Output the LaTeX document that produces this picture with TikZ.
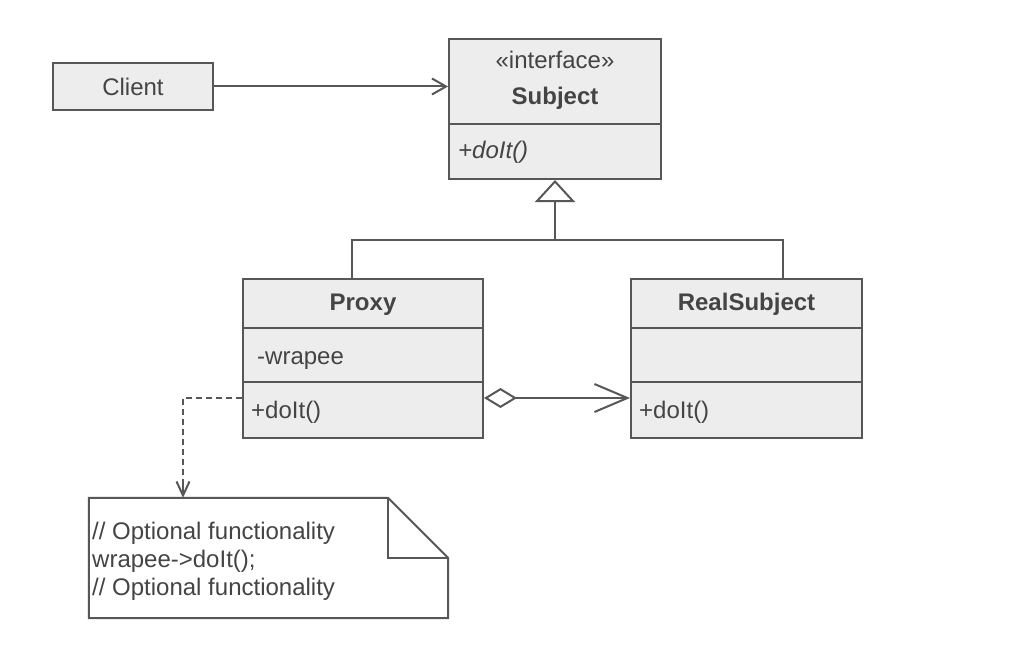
\documentclass[tikz,border=0pt]{standalone}
\usepackage{fontspec}
\setmainfont{Liberation Sans}
\usetikzlibrary{arrows.meta}
\definecolor{strokec}{HTML}{575757}
\definecolor{fillc}{HTML}{EDEDED}
\definecolor{textc}{HTML}{444444}
\tikzset{
  cls/.style={draw=strokec, fill=fillc, line width=2pt, rectangle, inner sep=0pt},
  lbl/.style={inner sep=0pt, text=textc, font=\fontsize{24}{29}\selectfont},
  lblb/.style={lbl, font=\fontsize{24}{29}\selectfont\bfseries},
  conn/.style={draw=strokec, line width=2pt},
  openarr/.style={-{Straight Barb[length=14pt,width=16pt,line width=2pt]}},
  smallarr/.style={-{Straight Barb[length=14pt,width=13pt,line width=2pt]}},
  inherit/.style={-{Triangle[open,length=22pt,width=40pt,line width=2pt,fill=white]}},
  aggrarr/.style={{Diamond[open,length=33pt,width=20pt,line width=2pt,fill=white]}-{Straight Barb[length=33pt,width=28pt,line width=2pt]}},
}
\begin{document}
\begin{tikzpicture}[x=1pt,y=-1pt]
\useasboundingbox (0,0) rectangle (1012,666);

% Client
\node[cls, minimum width=160pt, minimum height=47pt] (client) at (133,86.5) {};
\node[lbl, anchor=base] (clientT) at (133,96) {Client};

% Subject
\node[cls, minimum width=212pt, minimum height=140pt] (subject) at (555,109) {};
\draw[conn] (subject.west |- 0,124) -- (subject.east |- 0,124);
\node[lbl, anchor=base] (subjS) at (555,69) {«interface»};
\node[lblb, anchor=base] (subjT) at (555,105) {Subject};
\node[lbl, anchor=base west] (subjM) at (458,159) {\itshape +doIt()};

% Proxy
\node[cls, minimum width=240pt, minimum height=159pt] (proxy) at (363,358.5) {};
\draw[conn] (proxy.west |- 0,328) -- (proxy.east |- 0,328);
\draw[conn] (proxy.west |- 0,382) -- (proxy.east |- 0,382);
\node[lblb, anchor=base] (proxyT) at (363,310) {Proxy};
\node[lbl, anchor=base west] (proxyA) at (257,364) {-wrapee};
\node[lbl, anchor=base west] (proxyM) at (251,418) {+doIt()};

% RealSubject
\node[cls, minimum width=231pt, minimum height=159pt] (real) at (746.5,358.5) {};
\draw[conn] (real.west |- 0,328) -- (real.east |- 0,328);
\draw[conn] (real.west |- 0,382) -- (real.east |- 0,382);
\node[lblb, anchor=base] (realT) at (746.5,310) {RealSubject};
\node[lbl, anchor=base west] (realM) at (639,418) {+doIt()};

% Note
\node[minimum width=359pt, minimum height=120pt, inner sep=0pt] (note) at (268.5,558) {};
\coordinate (fold) at (388,558);
\draw[conn, fill=white] (note.north west) -- (fold |- note.north) -- (note.east |- fold)
  -- (note.south east) -- (note.south west) -- cycle;
\draw[conn] (fold |- note.north) -- (fold) -- (note.east |- fold);
\node[lbl, anchor=base west] (n1) at (92,539) {// Optional functionality};
\node[lbl, anchor=base west] (n2) at (92,567) {wrapee->doIt();};
\node[lbl, anchor=base west] (n3) at (92,595) {// Optional functionality};

% Client -> Subject
\draw[conn, openarr] (client.east) -- (client.east -| subject.west);

% Inheritance
\coordinate (hL) at (352,240);
\coordinate (hR) at (783,240);
\draw[conn] (proxy.north -| hL) -- (hL) -- (hR) -- (real.north -| hR);
\draw[conn, inherit] (hL -| subject.south) -- (subject.south);

% Aggregation
\coordinate (ag) at (0,398);
\draw[conn, aggrarr] (proxy.east |- ag) -- (real.west |- ag);

% Dashed to note
\coordinate (dc) at (183,398);
\draw[conn, dash pattern=on 6pt off 4pt] (proxy.west |- dc) -- (dc) -- ([yshift=14pt]dc |- note.north);
\draw[conn, smallarr] ([yshift=15pt]dc |- note.north) -- (dc |- note.north);
\end{tikzpicture}
\end{document}
